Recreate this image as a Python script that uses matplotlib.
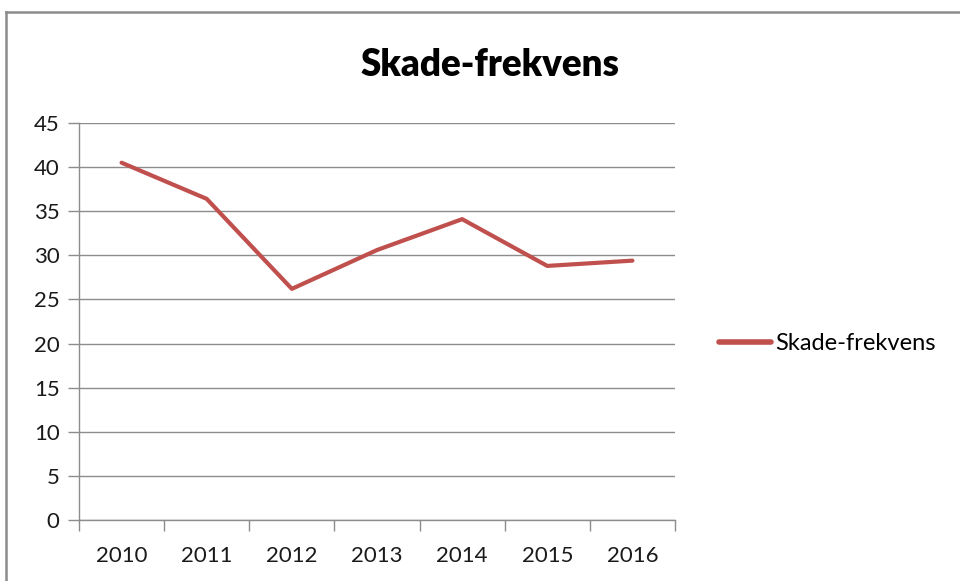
import matplotlib.pyplot as plt
from matplotlib.lines import Line2D
import numpy as np

plt.rcParams['font.family'] = ['Lato', 'DejaVu Sans']

years = ['2010', '2011', '2012', '2013', '2014', '2015', '2016']
skade_frekvens = [40.5, 36.4, 26.2, 30.6, 34.1, 28.8, 29.4]
y_ticks = [0, 5, 10, 15, 20, 25, 30, 35, 40, 45]

fig = plt.figure(figsize=(9.6, 5.81), dpi=100)

# chart frame: only top and left edges are visible in the crop
top = 1 - 12 / 581
left = 6 / 960
fig.add_artist(Line2D([left, 1.0], [top, top], transform=fig.transFigure,
                      color='#8c8c8c', linewidth=1.8))
fig.add_artist(Line2D([left, left], [0.0, top], transform=fig.transFigure,
                      color='#8c8c8c', linewidth=1.8))

ax = fig.add_axes([79 / 960, 1 - 520 / 581, (675 - 79) / 960, (520 - 123) / 581])

x = np.arange(len(years))
ax.plot(x, skade_frekvens, color='#C0504D', linewidth=3, solid_capstyle='round',
        label='Skade-frekvens')

ax.set_xlim(-0.5, len(years) - 0.5)
ax.set_ylim(0, 45)
ax.set_yticks(y_ticks)
ax.set_xticks(x)
ax.set_xticklabels(years)
ax.set_xticks(np.arange(-0.5, len(years)), minor=True)
ax.tick_params(axis='x', which='major', length=0, pad=19, labelsize=16, labelcolor='#1a1a1a')
ax.tick_params(axis='x', which='minor', length=8, color='#8c8c8c', width=1)
ax.tick_params(axis='y', length=8, color='#8c8c8c', width=1, labelsize=16,
               labelcolor='#1a1a1a', pad=6)

ax.grid(axis='y', color='#8c8c8c', linewidth=1)
ax.set_axisbelow(True)
for side in ['top', 'right']:
    ax.spines[side].set_visible(False)
for side in ['left', 'bottom']:
    ax.spines[side].set_color('#8c8c8c')
    ax.spines[side].set_linewidth(1)

fig.text(490 / 960, 1 - 65 / 581, 'Skade-frekvens', ha='center', va='center',
         fontsize=26.5, fontweight='heavy', color='black')

leg = ax.legend(loc='center left', bbox_to_anchor=(1.038, 0.445), frameon=False,
                fontsize=17, handlelength=2.2, handletextpad=0.2)
for h in leg.get_lines():
    h.set_linewidth(4)

plt.savefig('out.png', dpi=100)
